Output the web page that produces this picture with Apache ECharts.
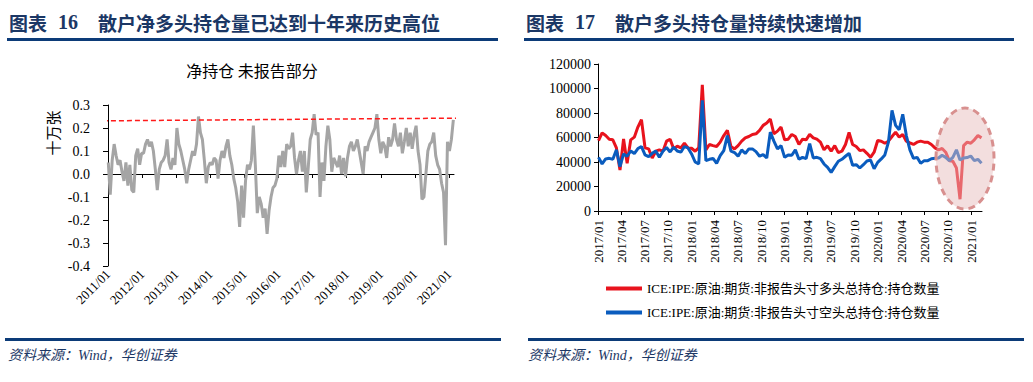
<!DOCTYPE html>
<html><head><meta charset="utf-8">
<script src="https://cdn.jsdelivr.net/npm/echarts@6/dist/echarts.min.js"></script>
<style>html,body{margin:0;padding:0;background:#fff}#c{width:1033px;height:382px}</style>
</head><body><div id="c"></div>
<script>
// ---------- Chart 16: net position of non-reportable (unit: 100k lots) ----------
const netStart = '2011-01-04';
const netStepDays = 21;
const netValues = [
  0.05,-0.09,0.06,0.13,0.08,0.04,0.06,0.01,-0.03,0.05,-0.05,0.04,-0.07,-0.08,0.08,0.11,0.04,0.09,
  0.09,0.13,0.15,0.12,0.14,0.10,0.02,-0.07,0.02,0.05,0.06,0.08,0.15,0.05,0.02,0.07,0.04,0.20,
  0.13,0.10,0.06,0.02,-0.04,0.02,0.06,0.10,0.08,0.13,0.25,0.18,0.15,0.06,-0.04,0.03,0.05,
  0.04,0.07,0.06,-0.02,0.06,0.10,0.07,0.12,0.15,0.08,0.04,-0.02,-0.06,-0.12,-0.23,-0.05,-0.19,-0.03,
  0.04,0.02,0.06,0.21,0.04,-0.17,-0.10,-0.13,-0.19,-0.15,-0.26,-0.16,-0.10,-0.06,-0.05,-0.02,0.08,
  0.03,0.10,0.03,0.13,0.11,0.12,0.18,0.07,0.00,0.06,0.10,0.01,0.10,-0.08,0.03,0.15,0.18,0.26,
  0.17,0.18,-0.10,0.05,-0.03,0.12,0.21,0.15,0.01,0.07,0.05,0.03,0.08,0.00,0.07,-0.01,0.07,
  0.12,0.14,0.10,0.12,0.15,0.10,0.05,0.00,0.12,0.10,0.14,0.16,0.18,0.20,0.26,0.15,0.09,
  0.14,0.12,0.07,0.16,0.12,0.15,0.22,0.15,0.12,0.18,0.09,0.14,0.20,0.12,0.18,0.11,0.17,0.21,
  0.10,0.04,-0.11,-0.10,0.00,0.10,0.13,0.14,0.18,0.08,0.04,0.02,-0.04,-0.08,-0.31,0.14,0.10,0.15,0.235
];
const netRefDates = ['2010-08-14', '2021-04-27'];
const netRefValues = [0.231, 0.243];
const netTickYears = [2011,2012,2013,2014,2015,2016,2017,2018,2019,2020,2021];
const netAxisMin = '2011-01-01';
const netAxisMax = '2021-02-23';
const netYMin = -0.4, netYMax = 0.3, netYStep = 0.1;

// ---------- Chart 17: ICE Brent non-reportable long / short ----------
const cotStart = '2017-01-03';
const cotStepDays = 14;
const longValues = [
  57500,63800,61600,58600,58100,51500,33400,58900,38900,58100,60300,68500,74500,51500,50700,43300,48800,49900,
  48800,57000,58600,50700,52900,51500,55300,51500,51200,48800,51500,103000,49900,54300,53400,52600,56200,61600,
  65800,52600,50700,53400,57000,59700,60800,62500,63000,65800,69900,71800,75100,63000,65200,68500,58100,58600,
  62500,60800,54300,58600,58100,62500,59700,58600,56200,49900,53200,48800,53400,47700,48800,54300,64100,54300,
  52600,49300,49900,47100,43800,48000,57500,57000,55300,57000,60800,64400,60300,62500,57000,55600,54300,56200,
  57000,56200,56200,54300,51500,49900,51000,48000,41100,40600,35100,9600,53400,56200,55300,58100,61600,59700
];
const shortValues = [
  43800,38400,42500,43000,42200,49900,36200,46600,44700,49000,46900,51000,52600,45800,44400,47100,49000,43800,
  48800,51800,48200,52100,49000,48000,52600,51500,46600,40000,38400,90400,41100,42200,43000,38900,45200,49300,
  61600,48800,47700,44700,49900,46900,50700,50700,48500,44700,46000,43300,64400,57000,50700,53400,43800,45800,
  45500,49900,42200,43800,42700,55000,43300,43800,42700,38400,35600,31500,36200,40600,42200,44700,47100,37300,
  37800,35100,37800,40800,41600,34500,39700,42500,45800,56200,82200,69900,66300,78900,61600,49900,43000,43800,
  38900,41100,41100,42700,43000,43300,45500,43800,41100,43800,49900,41600,43300,43600,44900,41100,42200,38900
];
const cotTickLabels = ['2017/01','2017/04','2017/07','2017/10','2018/01','2018/04','2018/07','2018/10',
  '2019/01','2019/04','2019/07','2019/10','2020/01','2020/04','2020/07','2020/10','2021/01'];
const cotAxisMin = '2017-01-01';
const cotAxisMax = '2021-02-11';
const cotYMin = 0, cotYMax = 120000, cotYStep = 20000;
const longName = 'ICE:IPE:原油:期货:非报告头寸多头总持仓:持仓数量';
const shortName = 'ICE:IPE:原油:期货:非报告头寸空头总持仓:持仓数量';

// ---------- helpers ----------
const DAY = 86400000;
function ts(s) { const p = s.split(/[-\/]/).map(Number); return Date.UTC(p[0], p[1] - 1, p[2] || 1); }
function series(start, step, vals) { const t0 = ts(start); return vals.map((v, i) => [t0 + i * step * DAY, v]); }
function ym(v) { const d = new Date(v); return d.getUTCFullYear() + '/' + String(d.getUTCMonth() + 1).padStart(2, '0'); }

const netData = series(netStart, netStepDays, netValues);
const netRef = netRefDates.map((d, i) => [ts(d), netRefValues[i]]);
const netTicks = netTickYears.map(y => Date.UTC(y, 0, 1));
const longData = series(cotStart, cotStepDays, longValues);
const shortData = series(cotStart, cotStepDays, shortValues);
const cotTicks = cotTickLabels.map(ts);

const serif = '"Liberation Serif","Times New Roman","Noto Sans CJK SC",serif';
const cjk = '"Noto Sans CJK SC","Noto Sans CJK JP",sans-serif';
const navy = '#1b3765';
const ruleColor = '#0c3b78';

const chart = echarts.init(document.getElementById('c'), null, { renderer: 'svg' });

function header(x0, num, title) {
  return [
    { type: 'text', x: x0, y: 22, style: { text: '图表', fill: navy, fontSize: 19, fontWeight: 'bold', fontFamily: cjk, verticalAlign: 'middle' } },
    { type: 'text', x: x0 + 49, y: 22, style: { text: num, fill: navy, fontSize: 20, fontWeight: 'bold', fontFamily: serif, verticalAlign: 'middle' } },
    { type: 'text', x: x0 + 89, y: 22, style: { text: title, fill: navy, fontSize: 19, fontWeight: 'bold', fontFamily: cjk, verticalAlign: 'middle' } }
  ];
}

const option = {
  animation: false,
  backgroundColor: '#fff',
  grid: [
    { left: 108, top: 105, width: 346, height: 161 },
    { left: 598, top: 64, width: 384, height: 147 }
  ],
  xAxis: [
    { // left: zero line with ticks
      type: 'value', gridIndex: 0, min: ts(netAxisMin), max: ts(netAxisMax),
      axisLine: { onZero: true, lineStyle: { color: '#000', width: 1 } },
      axisTick: { show: true, length: 4, customValues: netTicks, lineStyle: { color: '#000' } },
      axisLabel: { show: false }, splitLine: { show: false }
    },
    { // left: labels at the bottom
      type: 'value', gridIndex: 0, position: 'bottom', min: ts(netAxisMin), max: ts(netAxisMax),
      axisLine: { show: false, onZero: false }, axisTick: { show: false }, splitLine: { show: false },
      axisLabel: { customValues: netTicks, formatter: ym, rotate: 45, margin: 6, color: '#000', fontSize: 13, fontFamily: serif }
    },
    { // right
      type: 'value', gridIndex: 1, min: ts(cotAxisMin), max: ts(cotAxisMax),
      axisLine: { onZero: false, lineStyle: { color: '#000', width: 1 } },
      axisTick: { show: true, length: 4, customValues: cotTicks, lineStyle: { color: '#000' } },
      axisLabel: { customValues: cotTicks, formatter: ym, rotate: 90, margin: 9, color: '#000', fontSize: 13, fontFamily: serif },
      splitLine: { show: false }
    }
  ],
  yAxis: [
    {
      type: 'value', gridIndex: 0, min: netYMin, max: netYMax, interval: netYStep,
      axisLine: { show: true, lineStyle: { color: '#000' } },
      axisTick: { show: true, length: 5, lineStyle: { color: '#000' } },
      axisLabel: { margin: 18, color: '#000', fontSize: 14, fontFamily: serif,
        formatter: v => (Math.abs(v) < 1e-9 ? 0 : v).toFixed(1) },
      splitLine: { show: false }
    },
    {
      type: 'value', gridIndex: 1, min: cotYMin, max: cotYMax, interval: cotYStep,
      axisLine: { show: true, lineStyle: { color: '#000' } },
      axisTick: { show: true, length: 4, lineStyle: { color: '#000' } },
      axisLabel: { margin: 7, color: '#000', fontSize: 14, fontFamily: serif, formatter: v => String(Math.round(v)) },
      splitLine: { show: false }
    }
  ],
  legend: {
    data: [longName, shortName], orient: 'vertical', left: 601, top: 277,
    icon: 'rect', itemWidth: 36, itemHeight: 4, itemGap: 11,
    textStyle: { color: '#000', fontSize: 13, fontFamily: serif }
  },
  series: [
    { type: 'line', name: '净持仓', xAxisIndex: 0, yAxisIndex: 0, data: netData, showSymbol: false,
      lineStyle: { color: '#a5a5a5', width: 3 }, itemStyle: { color: '#a5a5a5' } },
    { type: 'line', name: 'ref', xAxisIndex: 0, yAxisIndex: 0, data: netRef, showSymbol: false, clip: false,
      lineStyle: { color: '#ff1a1a', width: 1.5, type: [5, 3] }, silent: true },
    { type: 'line', name: longName, xAxisIndex: 2, yAxisIndex: 1, data: longData, showSymbol: false,
      lineStyle: { color: '#e8131d', width: 3 }, itemStyle: { color: '#e8131d' } },
    { type: 'line', name: shortName, xAxisIndex: 2, yAxisIndex: 1, data: shortData, showSymbol: false,
      lineStyle: { color: '#0a5cbe', width: 3 }, itemStyle: { color: '#0a5cbe' } }
  ],
  graphic: [
    ...header(9, '16', '散户净多头持仓量已达到十年来历史高位'),
    ...header(526, '17', '散户多头持仓量持续快速增加'),
    { type: 'rect', shape: { x: 7, y: 38, width: 491, height: 3 }, style: { fill: ruleColor } },
    { type: 'rect', shape: { x: 524, y: 38, width: 490, height: 3 }, style: { fill: ruleColor } },
    { type: 'rect', shape: { x: 5, y: 338, width: 496, height: 3 }, style: { fill: ruleColor } },
    { type: 'rect', shape: { x: 528, y: 338, width: 496, height: 3 }, style: { fill: ruleColor } },
    { type: 'text', x: 8, y: 355, style: { text: '资料来源：Wind，华创证券', fill: navy, fontSize: 14, fontStyle: 'italic', fontFamily: serif, verticalAlign: 'middle' } },
    { type: 'text', x: 528, y: 355, style: { text: '资料来源：Wind，华创证券', fill: navy, fontSize: 14, fontStyle: 'italic', fontFamily: serif, verticalAlign: 'middle' } },
    { type: 'text', x: 252, y: 70, style: { text: '净持仓 未报告部分', fill: '#000', fontSize: 16, fontFamily: cjk, align: 'center', verticalAlign: 'middle' } },
    { type: 'text', x: 52, y: 133, rotation: Math.PI / 2, style: { text: '十万张', fill: '#000', fontSize: 15, fontFamily: cjk, align: 'center', verticalAlign: 'middle' } },
    { type: 'ellipse', z: 100, shape: { cx: 965, cy: 158.5, rx: 29, ry: 50.5 },
      style: { fill: 'rgba(232,190,190,0.5)', stroke: '#d8908f', lineWidth: 3, lineDash: [7, 5] } }
  ]
};
chart.setOption(option);
</script>
</body></html>
